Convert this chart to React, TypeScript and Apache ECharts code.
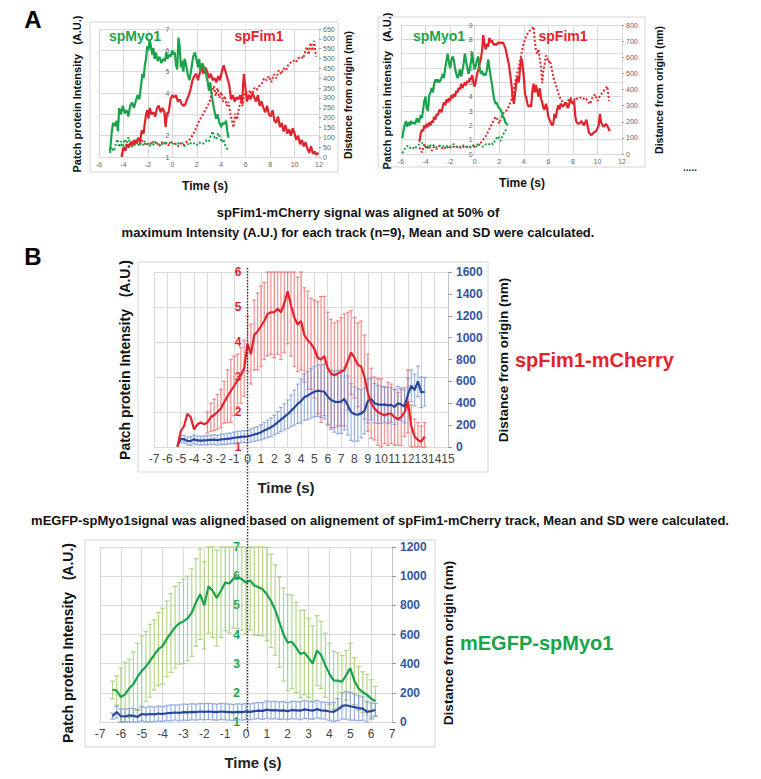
import React, { useEffect, useRef } from "react";
import * as echarts from "echarts";

// ---------------- Panel A (left track) ----------------
const aL_myoT = [-5.1,-4.95,-4.85,-4.7,-4.55,-4.45,-4.35,-4.2,-4.05,-3.9,-3.75,-3.6,-3.45,-3.3,-3.15,-3.0,-2.85,-2.7,-2.55,-2.45,-2.35,-2.25,-2.15,-2.05,-1.95,-1.85,-1.75,-1.65,-1.55,-1.45,-1.35,-1.2,-1.05,-0.9,-0.75,-0.6,-0.5,-0.4,-0.3,-0.15,0,0.1,0.2,0.3,0.4,0.5,0.6,0.7,0.8,0.9,1.0,1.1,1.25,1.4,1.55,1.7,1.85,2.0,2.1,2.2,2.3,2.45,2.6,2.75,2.9,3.0,3.1,3.2,3.3,3.4,3.5,3.6,3.7,3.85,4.0,4.1,4.25,4.4,4.5,4.6];
const aL_myoV = [1.25,2.2,2.6,2.45,2.7,2.2,3.3,3.0,3.4,3.05,3.2,2.9,3.4,3.55,3.3,3.6,3.9,3.7,4.4,4.9,4.7,5.3,5.6,6.2,6.0,6.5,6.2,5.8,6.1,5.6,5.9,5.5,5.7,5.4,5.6,5.5,5.9,5.6,5.8,5.7,6.0,5.8,5.9,5.3,5.1,6.6,6.2,5.2,5.5,5.0,5.6,5.4,4.9,4.6,5.1,5.7,5.9,5.5,5.2,5.6,5.0,5.4,5.2,4.9,4.5,4.1,4.5,4.0,3.6,3.3,3.0,2.8,3.0,2.6,2.4,2.6,2.55,2.7,2.2,1.9];
const aL_fimT = [-4.15,-4.0,-3.85,-3.7,-3.55,-3.4,-3.25,-3.1,-2.95,-2.8,-2.65,-2.5,-2.35,-2.25,-2.15,-2.05,-1.95,-1.85,-1.7,-1.55,-1.4,-1.25,-1.1,-0.95,-0.8,-0.65,-0.55,-0.45,-0.3,-0.15,0,0.15,0.3,0.45,0.6,0.75,0.9,1.05,1.2,1.35,1.5,1.65,1.8,1.95,2.1,2.25,2.4,2.55,2.7,2.85,3.0,3.15,3.3,3.45,3.6,3.75,3.9,4.05,4.2,4.35,4.5,4.65,4.8,4.95,5.1,5.25,5.4,5.55,5.7,5.85,5.95,6.1,6.25,6.4,6.55,6.7,6.85,7.0,7.15,7.3,7.45,7.6,7.75,7.9,8.05,8.2,8.35,8.5,8.65,8.8,8.95,9.1,9.25,9.4,9.55,9.7,9.85,10.0,10.15,10.3,10.45,10.6,10.75,10.9,11.05,11.2,11.35,11.5,11.65,11.8,11.95];
const aL_fimV = [1.0,1.45,1.3,1.6,1.45,1.7,1.55,1.8,1.65,1.9,1.7,2.25,2.1,2.6,3.0,3.2,2.8,3.3,3.0,3.1,2.9,3.3,3.4,3.1,3.3,3.1,2.4,3.0,3.1,3.7,3.9,3.8,3.9,3.6,3.7,3.5,3.4,3.45,3.7,3.9,4.2,4.6,4.8,4.9,4.6,4.95,5.2,4.9,5.2,5.0,4.7,4.9,4.6,4.7,4.5,4.8,4.6,5.0,5.3,5.0,4.7,4.4,3.7,3.9,3.6,3.8,3.7,3.9,3.5,4.9,4.4,3.6,3.9,3.7,4.0,3.8,3.6,3.9,3.4,3.6,3.3,3.1,3.4,3.0,2.9,3.2,2.7,2.6,2.9,2.4,2.6,2.2,2.5,2.1,2.3,2.0,2.35,2.1,1.8,2.0,1.6,1.8,1.5,1.7,1.4,1.2,1.5,1.15,1.25,1.1,1.2];
const aL_fimDistT = [-4.15,-4.0,-3.85,-3.7,-3.5,-3.3,-3.1,-2.9,-2.7,-2.5,-2.3,-2.1,-1.9,-1.7,-1.5,-1.3,-1.1,-0.9,-0.7,-0.5,-0.3,-0.1,0.1,0.3,0.5,0.7,0.9,1.1,1.3,1.5,1.7,1.9,2.1,2.3,2.5,2.7,2.9,3.1,3.25,3.4,3.55,3.7,3.85,4.0,4.15,4.3,4.45,4.6,4.75,4.9,5.0,5.15,5.3,5.45,5.6,5.75,5.9,6.05,6.2,6.35,6.5,6.7,6.9,7.1,7.3,7.5,7.7,7.9,8.1,8.3,8.5,8.7,8.9,9.1,9.3,9.5,9.7,9.9,10.1,10.3,10.5,10.7,10.85,11.0,11.15,11.3,11.45,11.6,11.75];
const aL_fimDistV = [10,50,35,70,55,80,60,75,65,85,70,60,75,65,80,70,60,75,65,70,60,75,70,65,55,70,60,75,80,95,115,140,170,195,215,240,260,290,330,360,310,350,300,330,280,310,260,280,220,180,150,220,190,250,280,260,320,330,300,340,310,350,340,360,370,400,390,410,380,420,400,440,420,450,440,470,480,490,480,500,510,500,530,560,520,580,540,590,510];
const aL_myoDistT = [-5.1,-4.95,-4.8,-4.65,-4.5,-4.35,-4.2,-4.05,-3.9,-3.75,-3.6,-3.45,-3.3,-3.15,-3.0,-2.85,-2.7,-2.55,-2.4,-2.25,-2.1,-1.95,-1.8,-1.65,-1.5,-1.35,-1.2,-1.05,-0.9,-0.75,-0.6,-0.45,-0.3,-0.15,0,0.2,0.4,0.6,0.8,1.0,1.2,1.4,1.6,1.8,2.0,2.2,2.4,2.6,2.8,3.0,3.15,3.3,3.45,3.6,3.75,3.9,4.05,4.2,4.35,4.5,4.6];
const aL_myoDistV = [20,50,30,60,90,50,80,40,90,60,100,70,50,80,60,75,55,70,60,80,65,70,55,75,60,80,65,55,70,60,80,70,65,75,70,60,75,65,70,55,60,75,65,70,60,75,65,70,85,80,110,130,100,90,120,100,75,90,55,40,45];

// ---------------- Panel A (right track) ----------------
const aR_myoT = [-5.9,-5.8,-5.7,-5.6,-5.5,-5.4,-5.3,-5.2,-5.1,-5.0,-4.85,-4.7,-4.55,-4.4,-4.3,-4.2,-4.1,-4.0,-3.9,-3.8,-3.7,-3.6,-3.5,-3.4,-3.3,-3.2,-3.1,-3.0,-2.9,-2.8,-2.7,-2.6,-2.5,-2.4,-2.3,-2.2,-2.1,-2.0,-1.9,-1.8,-1.7,-1.6,-1.5,-1.4,-1.3,-1.2,-1.1,-1.0,-0.9,-0.8,-0.7,-0.6,-0.5,-0.4,-0.3,-0.2,-0.1,0,0.1,0.2,0.3,0.4,0.5,0.6,0.7,0.8,0.9,1.0,1.1,1.2,1.3,1.4,1.5,1.6,1.7,1.8,1.9,2.0,2.1,2.2,2.3,2.4,2.5,2.6,2.7];
const aR_myoV = [1.1,1.6,2.0,2.3,1.9,2.2,2.0,2.3,2.1,2.2,2.1,2.5,2.2,2.7,2.5,3.1,3.7,4.0,3.2,3.0,4.1,4.3,4.6,4.3,4.9,5.2,5.0,5.2,5.0,5.1,5.3,5.6,5.3,6.0,6.5,7.0,6.4,6.0,6.5,6.8,6.6,6.0,5.6,5.3,5.5,5.9,5.4,5.8,6.3,7.0,6.5,6.0,5.6,6.0,6.4,7.1,6.3,5.9,6.2,6.6,6.8,6.0,5.6,5.8,5.5,5.6,5.5,5.9,6.6,6.0,5.4,4.9,4.3,3.8,3.5,3.6,3.3,3.2,3.1,2.9,2.6,2.5,2.2,2.1,2.0];
const aR_fimT = [-4.5,-4.4,-4.3,-4.2,-4.1,-4.0,-3.9,-3.8,-3.7,-3.6,-3.5,-3.4,-3.3,-3.2,-3.1,-3.0,-2.9,-2.8,-2.7,-2.6,-2.5,-2.4,-2.3,-2.2,-2.1,-2.0,-1.9,-1.8,-1.7,-1.6,-1.5,-1.4,-1.3,-1.2,-1.1,-1.0,-0.9,-0.8,-0.7,-0.6,-0.5,-0.4,-0.3,-0.2,-0.1,0,0.1,0.2,0.3,0.4,0.5,0.6,0.7,0.8,0.9,1.0,1.1,1.2,1.3,1.4,1.5,1.6,1.7,1.8,1.9,2.0,2.1,2.2,2.3,2.4,2.5,2.6,2.7,2.8,2.9,3.0,3.1,3.2,3.3,3.4,3.5,3.6,3.7,3.8,3.9,4.0,4.1,4.2,4.3,4.4,4.5,4.6,4.7,4.8,4.9,5.0,5.1,5.2,5.3,5.4,5.5,5.6,5.7,5.8,5.9,6.0,6.1,6.2,6.3,6.4,6.5,6.6,6.7,6.8,6.9,7.0,7.2,7.4,7.6,7.8,8.0,8.1,8.2,8.3,8.5,8.7,8.9,9.1,9.3,9.5,9.7,9.9,10.1,10.2,10.3,10.5,10.7,10.9,11.0];
const aR_fimV = [0.85,1.4,1.7,1.6,2.0,1.8,2.1,1.9,2.2,2.0,2.3,2.2,2.6,2.4,2.8,2.7,3.0,3.1,2.9,3.3,3.6,3.4,3.8,3.6,3.9,3.7,4.1,3.9,4.2,4.0,4.4,4.3,4.6,4.5,4.9,4.6,4.8,5.0,4.8,5.1,5.0,5.3,5.2,5.5,5.0,4.7,5.1,5.6,5.9,6.3,6.6,7.2,8.3,7.6,7.3,7.7,7.5,8.1,7.8,7.95,7.7,7.6,7.7,7.6,7.8,7.7,7.8,7.7,7.8,7.6,7.4,7.0,6.6,6.2,5.5,4.8,3.9,3.5,4.3,5.0,5.4,5.0,6.0,6.7,6.2,5.4,4.2,3.9,3.5,3.3,3.4,3.3,4.4,4.9,4.3,4.8,4.4,4.0,4.6,3.9,3.6,3.2,3.1,3.5,3.2,2.6,2.4,2.2,2.0,2.1,2.8,2.5,3.0,3.4,3.1,3.5,3.3,3.6,3.2,3.8,3.5,3.7,2.6,2.2,2.1,2.3,2.0,2.4,1.5,1.3,1.5,1.6,2.0,2.8,2.2,1.9,2.1,1.8,1.6];
const aR_fimDistT = [-4.5,-4.3,-4.1,-3.9,-3.7,-3.5,-3.3,-3.1,-2.9,-2.7,-2.5,-2.3,-2.1,-1.9,-1.7,-1.5,-1.3,-1.1,-0.9,-0.7,-0.5,-0.3,-0.1,0.1,0.3,0.5,0.7,0.9,1.1,1.3,1.5,1.7,1.9,2.0,2.2,2.4,2.6,2.8,3.0,3.2,3.4,3.6,3.8,4.0,4.2,4.4,4.6,4.8,4.9,5.0,5.1,5.2,5.3,5.4,5.5,5.6,5.7,5.8,5.9,6.0,6.1,6.2,6.4,6.6,6.8,7.0,7.2,7.4,7.6,7.8,8.0,8.2,8.4,8.6,8.8,9.0,9.2,9.4,9.6,9.8,10.0,10.2,10.4,10.6,10.8,10.95];
const aR_fimDistV = [40,10,60,30,50,20,45,30,50,35,45,30,50,35,45,40,50,35,45,40,50,40,45,50,60,70,90,110,140,170,200,230,210,190,230,260,270,300,340,410,480,540,620,690,730,760,770,790,700,640,620,650,590,540,440,520,560,610,600,570,580,560,480,430,380,340,320,300,330,350,320,350,340,350,340,350,330,310,350,370,330,360,380,400,420,330];
const aR_myoDistT = [-5.9,-5.7,-5.5,-5.3,-5.1,-4.9,-4.7,-4.5,-4.3,-4.1,-3.9,-3.7,-3.5,-3.3,-3.1,-2.9,-2.7,-2.5,-2.3,-2.1,-1.9,-1.7,-1.5,-1.3,-1.1,-0.9,-0.7,-0.5,-0.3,-0.1,0.1,0.3,0.5,0.7,0.9,1.1,1.3,1.5,1.7,1.9,2.1,2.3,2.5,2.6];
const aR_myoDistV = [5,30,50,35,45,30,50,60,70,55,40,60,45,55,40,50,55,45,50,40,55,60,45,50,40,55,45,50,40,55,45,60,50,45,60,55,70,60,90,110,80,120,140,165];

// ---------------- Panel B (top): spFim1-mCherry, mean and SD ----------------
const bTopT = [-5.25,-5,-4.75,-4.5,-4.25,-4,-3.75,-3.5,-3.25,-3,-2.75,-2.5,-2.25,-2,-1.75,-1.5,-1.25,-1,-0.75,-0.5,-0.25,0,0.25,0.5,0.75,1,1.25,1.5,1.75,2,2.25,2.5,2.75,3,3.25,3.5,3.75,4,4.25,4.5,4.75,5,5.25,5.5,5.75,6,6.25,6.5,6.75,7,7.25,7.5,7.75,8,8.25,8.5,8.75,9,9.25,9.5,9.75,10,10.25,10.5,10.75,11,11.25,11.5,11.75,12,12.25,12.5,12.75,13,13.25];
const bTopFimMean = [1.0,1.45,1.6,1.95,1.85,1.5,1.65,1.7,1.65,1.7,1.85,1.92,2.0,2.1,2.28,2.45,2.6,2.75,2.9,3.05,3.25,3.95,3.65,4.2,4.3,4.45,4.6,4.8,4.85,4.85,4.95,4.85,5.1,5.45,5.05,4.7,4.5,4.6,4.2,4.05,3.95,3.8,3.55,3.5,3.6,3.25,3.1,3.05,3.1,3.15,3.2,3.45,3.7,3.55,3.35,3.3,3.0,2.55,2.25,2.1,2.0,1.95,1.9,1.95,1.95,1.85,1.8,1.85,2.0,2.3,1.6,1.3,1.2,1.15,1.3];
const bTopFimSD = [0,0,0,0,0,0,0,0,0,0.3,0.4,0.45,0.5,0.55,0.6,0.75,0.9,0.85,0.75,0.8,0.8,0.8,0.85,1.0,1.1,1.15,1.1,1.2,1.2,1.3,1.3,1.35,1.4,1.5,1.45,1.4,1.35,1.4,1.35,1.4,1.3,1.4,1.6,1.8,1.7,1.6,1.55,1.5,1.5,1.55,1.6,1.4,1.2,1.15,1.2,1.3,1.2,1.1,1.0,0.9,0.95,1.0,0.8,0.9,0.85,0.8,0.75,0.8,0.7,0.9,0.6,0.5,0.5,0.45,0.4];
const bTopDistMean = [10,75,70,55,55,70,60,58,60,62,65,68,62,70,72,75,78,85,88,92,95,97,105,115,122,135,150,165,180,200,225,250,275,300,330,360,395,420,455,470,490,505,515,510,505,460,430,415,410,415,440,380,320,300,295,305,330,420,440,400,390,385,390,380,385,365,400,390,370,480,560,520,600,500,505];
const bTopDistSD = [0,30,35,35,40,40,40,40,40,42,42,45,45,45,48,50,50,52,55,55,55,55,60,62,65,70,75,80,85,90,100,110,120,130,145,160,180,200,210,220,225,230,235,240,250,260,270,280,290,290,285,270,260,250,240,220,210,200,190,180,175,170,165,165,160,160,155,150,150,150,145,145,140,140,130];

// ---------------- Panel B (bottom): mEGFP-spMyo1, mean and SD ----------------
const bBotT = [-6.4,-6.2,-6,-5.8,-5.6,-5.4,-5.2,-5,-4.8,-4.6,-4.4,-4.2,-4,-3.8,-3.6,-3.4,-3.2,-3,-2.8,-2.6,-2.4,-2.2,-2,-1.8,-1.6,-1.4,-1.2,-1,-0.8,-0.6,-0.4,-0.2,0,0.2,0.4,0.6,0.8,1,1.2,1.4,1.6,1.8,2,2.2,2.4,2.6,2.8,3,3.2,3.4,3.6,3.8,4,4.2,4.4,4.6,4.8,5,5.2,5.4,5.6,5.8,6,6.2];
const bBotMyoMean = [2.1,2.08,1.85,1.95,2.15,2.3,2.55,2.75,2.9,3.1,3.3,3.5,3.6,3.85,4.05,4.25,4.38,4.45,4.55,4.75,5.1,5.38,5.0,5.65,5.5,5.25,5.5,5.78,5.75,5.92,5.95,5.9,5.78,5.85,5.68,5.62,5.55,5.38,5.15,4.84,4.42,4.0,3.72,3.75,3.56,3.33,3.38,3.2,3.0,3.45,3.3,2.95,2.65,2.43,2.42,2.38,2.6,2.85,2.4,2.15,2.02,1.93,1.8,1.72];
const bBotMyoSD = [0.3,0.5,1.0,1.1,1.0,1.1,1.15,1.2,1.2,1.25,1.2,1.25,1.3,1.3,1.35,1.4,1.4,1.45,1.45,1.5,1.5,1.55,1.5,1.6,1.6,1.65,1.6,1.65,1.7,1.7,1.75,1.75,1.75,1.7,1.7,1.65,1.6,1.6,1.6,1.55,1.55,1.6,1.65,1.6,1.55,1.5,1.45,1.35,1.3,1.2,1.15,1.1,1.05,1.0,0.95,0.9,0.85,0.85,0.8,0.75,0.7,0.7,0.65,0.5];
const bBotDistMean = [40,68,40,38,45,42,35,55,50,55,52,58,55,60,62,65,62,68,66,70,68,72,70,72,70,68,72,70,68,66,70,68,72,70,75,78,76,85,80,82,78,80,75,82,80,78,86,82,78,88,80,78,72,70,85,110,115,108,102,95,92,70,75,82];
const bBotDistSD = [20,40,50,50,48,50,50,48,50,52,50,52,50,52,55,52,55,55,55,55,55,55,55,55,55,55,55,55,55,55,55,55,55,55,55,55,58,60,60,60,60,60,58,60,60,62,62,60,60,60,58,58,60,65,75,90,95,95,90,85,80,70,55,45];

// ---------------- styles ----------------
const FONT = "'Liberation Sans', Arial, Helvetica, sans-serif";
const RED = "#e3232b";
const GREEN = "#1ba34b";
const BLUE = "#27489a";
const AXBLUE = "#34559f";
const GRIDC = "#d9d9d9";
const plain = (v: number) => String(v);

const zip2 = (t: number[], v: number[]) => {
  const n = Math.min(t.length, v.length);
  const out: number[][] = [];
  for (let i = 0; i < n; i++) out.push([t[i], v[i]]);
  return out;
};
const zip3 = (t: number[], v: number[], s: number[]) => {
  const n = Math.min(t.length, v.length, s.length);
  const out: number[][] = [];
  for (let i = 0; i < n; i++) out.push([t[i], v[i], s[i]]);
  return out;
};

const grids = [
  { left: 99, top: 29, width: 220, height: 128 },
  { left: 401, top: 25, width: 221, height: 129 },
  { left: 154, top: 272, width: 294, height: 175 },
  { left: 100, top: 547, width: 292, height: 175 },
];
const xRanges = [
  { min: -6, max: 12, interval: 2 },
  { min: -6, max: 12, interval: 2 },
  { min: -7, max: 15, interval: 1 },
  { min: -7, max: 7, interval: 1 },
];

function xAx(i: number, fontSize: number, margin: number, color: string, weight: string) {
  return {
    type: "value", gridIndex: i, ...xRanges[i],
    axisLine: { show: false, onZero: false },
    axisTick: { show: false },
    splitLine: { show: true, lineStyle: { color: GRIDC, width: 1 } },
    axisLabel: { fontSize, margin, color, fontFamily: FONT, fontWeight: weight, formatter: plain },
  };
}
function yLeft(i: number, min: number, max: number, fontSize: number, color: string, weight: string, margin: number) {
  const r = xRanges[i];
  const off = -((0 - r.min) / (r.max - r.min)) * grids[i].width;
  return {
    type: "value", gridIndex: i, position: "left", offset: off, min, max, interval: 1,
    axisLine: { show: false, onZero: false },
    axisTick: { show: false },
    splitLine: { show: true, lineStyle: { color: GRIDC, width: 1 } },
    axisLabel: { fontSize, margin, color, fontFamily: FONT, fontWeight: weight, formatter: plain },
  };
}
function yRight(i: number, min: number, max: number, interval: number, fontSize: number, color: string, weight: string, margin: number, tickLen: number, showLine: boolean) {
  return {
    type: "value", gridIndex: i, position: "right", min, max, interval,
    axisLine: { show: showLine, onZero: false, lineStyle: { color: "#c4c4c4" } },
    axisTick: { show: true, length: tickLen, lineStyle: { color: "#9a9a9a" } },
    splitLine: { show: false },
    axisLabel: { fontSize, margin, color, fontFamily: FONT, fontWeight: weight, formatter: plain },
  };
}

function errBars(ymin: number, ymax: number, color: string, cap: number, lw: number) {
  return (params: any, api: any) => {
    const x = api.value(0), m = api.value(1), s = api.value(2);
    if (!s) return { type: "group", children: [] };
    const hi = Math.min(m + s, ymax), lo = Math.max(m - s, ymin);
    const p1 = api.coord([x, hi]);
    const p2 = api.coord([x, lo]);
    const style = { stroke: color, lineWidth: lw, fill: "none" };
    return {
      type: "group",
      children: [
        { type: "line", shape: { x1: p1[0], y1: p1[1], x2: p2[0], y2: p2[1] }, style },
        { type: "line", shape: { x1: p1[0] - cap, y1: p1[1], x2: p1[0] + cap, y2: p1[1] }, style },
        { type: "line", shape: { x1: p2[0] - cap, y1: p2[1], x2: p2[0] + cap, y2: p2[1] }, style },
      ],
    };
  };
}

const lineS = (name: string, xi: number, yi: number, data: number[][], color: string, width: number, dotted: boolean, z: number) => ({
  type: "line", name, xAxisIndex: xi, yAxisIndex: yi, data, showSymbol: false, symbol: "none",
  lineStyle: { color, width, type: dotted ? [2, 2] : "solid" }, z, silent: true,
});
const errS = (name: string, xi: number, yi: number, data: number[][], ymin: number, ymax: number, color: string, cap: number, lw: number, z: number) => ({
  type: "custom", name, xAxisIndex: xi, yAxisIndex: yi, data, encode: { x: 0, y: 1 },
  renderItem: errBars(ymin, ymax, color, cap, lw), z, silent: true,
});

function txt(x: number, y: number, text: string, size: number, color: string, opts: any = {}) {
  return {
    type: "text", x, y, rotation: opts.rot || 0, z: 50,
    style: {
      text, fill: color, fontSize: size, fontWeight: opts.weight || "bold", fontFamily: FONT,
      textAlign: opts.align || "center", align: opts.align || "center",
      textVerticalAlign: "middle", verticalAlign: "middle",
    },
  };
}
const frame = (x: number, y: number, w: number, h: number) => ({
  type: "rect", shape: { x, y, width: w, height: h }, z: 1,
  style: { fill: "none", stroke: "#d4d4d4", lineWidth: 1 },
});

export default function App() {
  const ref = useRef<HTMLDivElement>(null);
  useEffect(() => {
    const chart = echarts.init(ref.current as HTMLDivElement, null, { renderer: "svg" });
    const option: any = {
      animation: false,
      backgroundColor: "#ffffff",
      grid: grids.map((g) => ({ ...g, containLabel: false })),
      xAxis: [
        xAx(0, 7, 4, "#666", "normal"),
        xAx(1, 7, 4, "#666", "normal"),
        xAx(2, 12, 6, "#444", "normal"),
        xAx(3, 12, 6, "#444", "normal"),
      ],
      yAxis: [
        yLeft(0, 1, 7, 7, "#666", "normal", 3),
        yRight(0, 0, 650, 50, 7, "#666", "normal", 4, 2, false),
        yLeft(1, 0, 9, 7, "#666", "normal", 2),
        yRight(1, 0, 800, 100, 7, "#666", "normal", 4, 2, false),
        yLeft(2, 1, 6, 12, RED, "bold", 6),
        yRight(2, 0, 1600, 200, 12, AXBLUE, "bold", 8, 4, true),
        yLeft(3, 1, 7, 12, GREEN, "bold", 6),
        yRight(3, 0, 1200, 200, 12, AXBLUE, "bold", 8, 4, true),
      ],
      series: [
        // A left
        lineS("aL fim dist", 0, 1, zip2(aL_fimDistT, aL_fimDistV), RED, 2, true, 3),
        lineS("aL myo dist", 0, 1, zip2(aL_myoDistT, aL_myoDistV), GREEN, 2, true, 3),
        lineS("aL fim", 0, 0, zip2(aL_fimT, aL_fimV), RED, 2.2, false, 4),
        lineS("aL myo", 0, 0, zip2(aL_myoT, aL_myoV), GREEN, 2.2, false, 5),
        // A right
        lineS("aR fim dist", 1, 3, zip2(aR_fimDistT, aR_fimDistV), RED, 2, true, 3),
        lineS("aR myo dist", 1, 3, zip2(aR_myoDistT, aR_myoDistV), GREEN, 2, true, 3),
        lineS("aR fim", 1, 2, zip2(aR_fimT, aR_fimV), RED, 2.2, false, 4),
        lineS("aR myo", 1, 2, zip2(aR_myoT, aR_myoV), GREEN, 2.2, false, 5),
        // B top
        errS("bTop fim sd", 2, 4, zip3(bTopT, bTopFimMean, bTopFimSD), 1, 6, "rgba(238,105,105,0.7)", 2, 1.3, 2),
        errS("bTop dist sd", 2, 5, zip3(bTopT, bTopDistMean, bTopDistSD), 0, 1600, "rgba(115,145,215,0.7)", 2, 1.2, 3),
        lineS("bTop dist", 2, 5, zip2(bTopT, bTopDistMean), BLUE, 2.2, false, 5),
        lineS("bTop fim", 2, 4, zip2(bTopT, bTopFimMean), RED, 2.2, false, 6),
        // B bottom
        errS("bBot myo sd", 3, 6, zip3(bBotT, bBotMyoMean, bBotMyoSD), 1, 7, "rgba(160,205,110,0.8)", 2.5, 1.2, 2),
        errS("bBot dist sd", 3, 7, zip3(bBotT, bBotDistMean, bBotDistSD), 0, 1200, "rgba(120,150,215,0.75)", 2.5, 1.2, 3),
        lineS("bBot myo", 3, 6, zip2(bBotT, bBotMyoMean), GREEN, 2.2, false, 5),
        lineS("bBot dist", 3, 7, zip2(bBotT, bBotDistMean), BLUE, 2.2, false, 6),
      ],
    };
    chart.setOption(option);
    const x0 = chart.convertToPixel({ xAxisIndex: 2 } as any, 0) as unknown as number;
    const V = Math.PI / 2;
    const elements: any[] = [
      txt(33, 19, "A", 24, "#000", { weight: "bold" }),
      txt(33, 256, "B", 24, "#000", { weight: "bold" }),
      frame(90, 22, 248, 150),
      frame(378, 17, 267, 150),
      frame(138, 262, 350, 210),
      frame(85, 540, 350, 207),
      // A left texts
      txt(77, 94, "Patch protein Intensity   (A.U.)", 11, "#111", { rot: V }),
      txt(348, 95, "Distance from origin (nm)", 10.5, "#111", { rot: V }),
      txt(205, 186, "Time (s)", 12, "#111"),
      txt(135, 36, "spMyo1", 14, GREEN),
      txt(259, 36, "spFim1", 14, RED),
      // A right texts
      txt(387, 91, "Patch protein Intensity   (A.U.)", 11, "#111", { rot: V }),
      txt(659, 90, "Distance from origin (nm)", 10.5, "#111", { rot: V }),
      txt(522, 183, "Time (s)", 12, "#111"),
      txt(439, 36, "spMyo1", 14, GREEN),
      txt(563, 36, "spFim1", 14, RED),
      txt(690, 167, ".....", 10, "#333"),
      // B top
      txt(358, 212, "spFim1-mCherry signal was aligned at 50% of", 13, "#111"),
      txt(358, 232, "maximum Intensity (A.U.) for each track (n=9), Mean and SD were calculated.", 13, "#111"),
      txt(125, 360, "Patch protein Intensity   (A.U.)", 14, "#111", { rot: V }),
      txt(503, 360, "Distance from origin (nm)", 13.5, "#111", { rot: V }),
      txt(286, 487, "Time (s)", 15, "#222"),
      txt(515, 360, "spFim1-mCherry", 20, RED, { align: "left" }),
      // B bottom
      txt(380, 520, "mEGFP-spMyo1signal was aligned based on alignement of spFim1-mCherry track, Mean and SD were calculated.", 13, "#111"),
      txt(68, 643, "Patch protein Intensity   (A.U.)", 14, "#111", { rot: V }),
      txt(448, 643, "Distance from origin (nm)", 13.5, "#111", { rot: V }),
      txt(253, 762, "Time (s)", 15, "#222"),
      txt(460, 643, "mEGFP-spMyo1", 20, GREEN, { align: "left" }),
      // alignment dotted line through both B charts at t = 0
      {
        type: "line", z: 60,
        shape: { x1: x0, y1: 268, x2: x0, y2: 733 },
        style: { stroke: "#333", lineWidth: 1.4, lineDash: [1.5, 1.5] },
      },
    ];
    chart.setOption({ graphic: [{ elements }] });
    return () => chart.dispose();
  }, []);
  return (
    <div
      ref={ref}
      style={{ position: "absolute", left: 0, top: 0, width: 761, height: 779, background: "#fff" }}
    />
  );
}
